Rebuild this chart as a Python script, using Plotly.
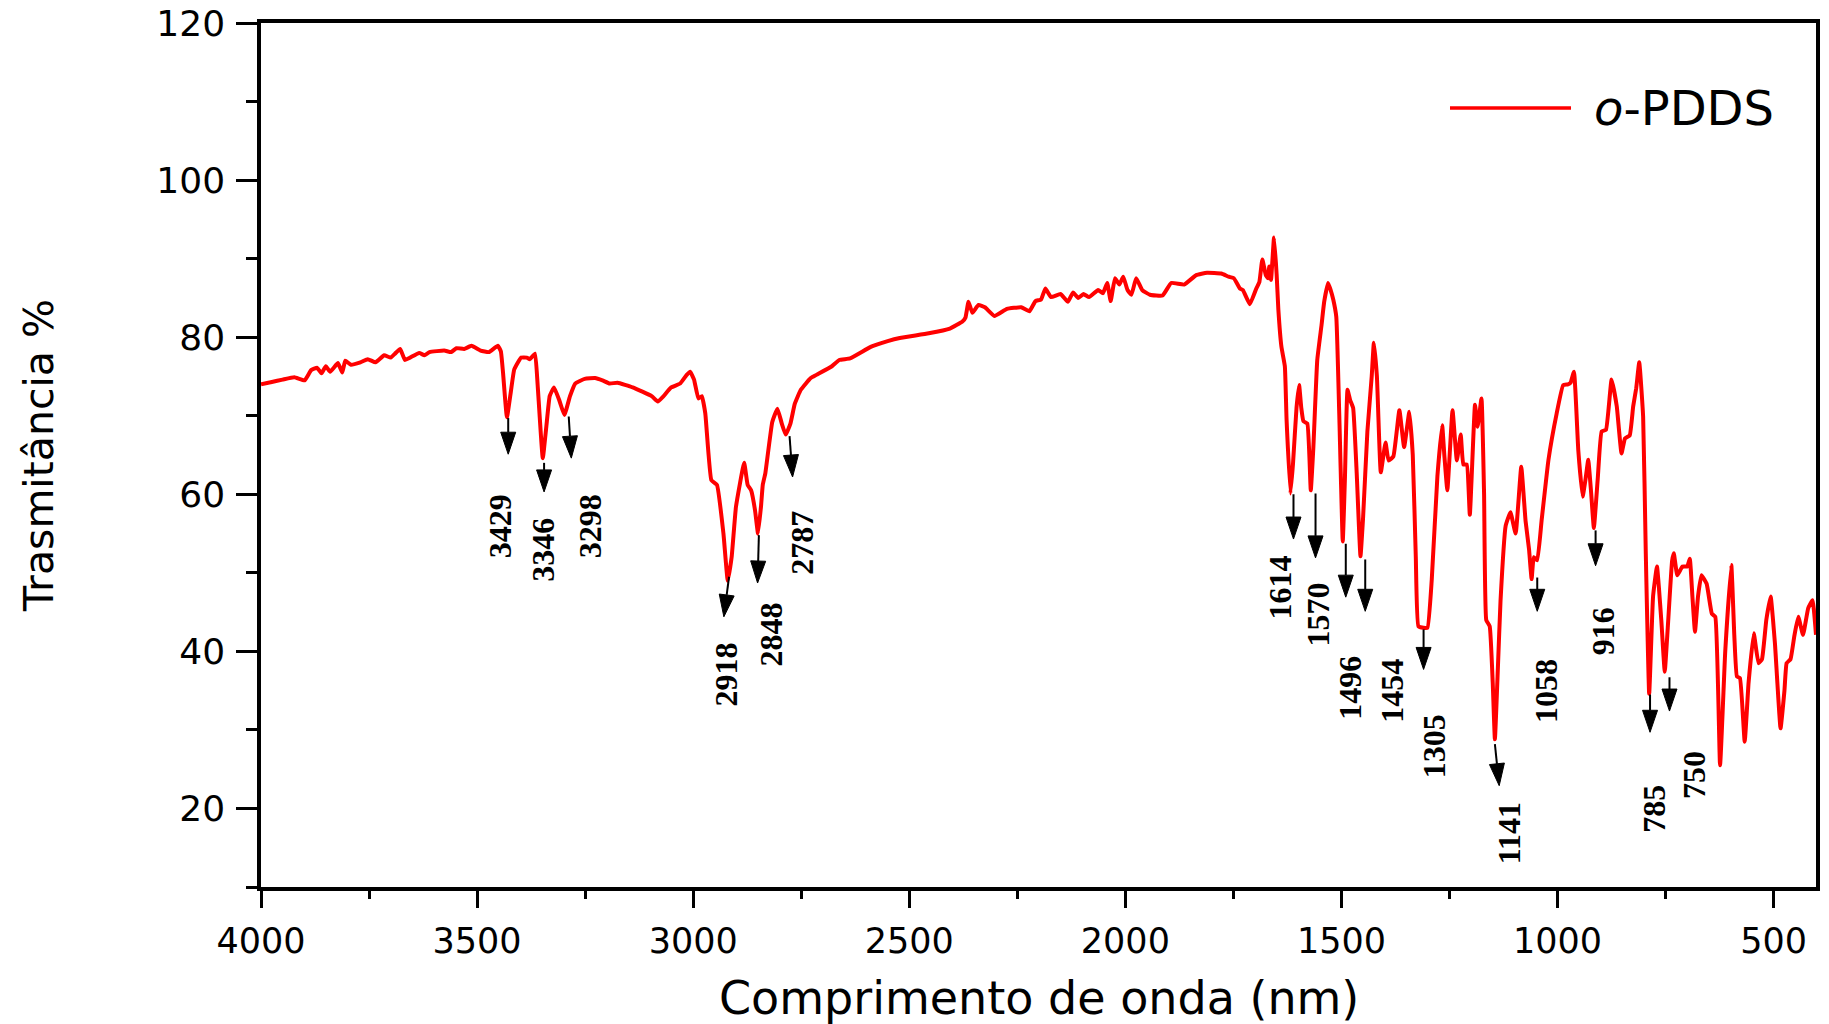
import math
import plotly.graph_objects as go

# ---------------- data ----------------
wavenumber = [
    4000, 3975, 3950, 3923, 3899, 3884, 3870, 3860, 3850, 3840, 3822, 3812, 3805, 3792,
    3770, 3753, 3735, 3715, 3700, 3690, 3678, 3667, 3655, 3634, 3622, 3610, 3576, 3560,
    3548, 3530, 3513, 3492, 3473, 3452, 3445, 3440, 3431, 3422, 3414, 3398, 3385, 3378,
    3366, 3360, 3348, 3340, 3332, 3322, 3310, 3298, 3285, 3273, 3251, 3227, 3210, 3193,
    3175, 3140, 3096, 3082, 3070, 3051, 3030, 3015, 3007, 2998, 2988, 2980, 2972, 2958,
    2945, 2930, 2920, 2911, 2901, 2882, 2874, 2866, 2857, 2850, 2843, 2839, 2833, 2817,
    2805, 2795, 2786, 2775, 2765, 2751, 2728, 2715, 2679, 2662, 2637, 2588, 2550, 2522,
    2455, 2406, 2377, 2370, 2363, 2354, 2340, 2325, 2303, 2274, 2241, 2222, 2208, 2195,
    2185, 2172, 2150, 2133, 2121, 2109, 2097, 2084, 2063, 2052, 2042, 2034, 2024, 2014,
    2005, 1995, 1986, 1975, 1961, 1943, 1914, 1894, 1864, 1836, 1811, 1778, 1761, 1749,
    1735, 1728, 1712, 1697, 1690, 1683, 1675, 1670, 1667, 1663, 1656, 1650, 1646, 1639,
    1631, 1627, 1618, 1612, 1604, 1598, 1593, 1588, 1579, 1571, 1565, 1556, 1546, 1540,
    1531, 1525, 1519, 1512, 1505, 1497, 1492, 1486, 1480, 1473, 1465, 1456, 1450, 1440,
    1430, 1425, 1418, 1409, 1398, 1391, 1380, 1366, 1355, 1343, 1335, 1328, 1322, 1310,
    1301, 1291, 1278, 1267, 1262, 1255, 1243, 1233, 1224, 1218, 1210, 1203, 1191, 1185,
    1176, 1170, 1165, 1157, 1150, 1145, 1138, 1132, 1120, 1109, 1097, 1084, 1074, 1066,
    1060, 1055, 1047, 1037, 1021, 1002, 987, 976, 970, 962, 952, 942, 935, 929,
    922, 916, 907, 898, 888, 875, 863, 852, 844, 833, 825, 818, 811, 802,
    796, 788, 779, 770, 760, 752, 745, 735, 731, 723, 711, 700, 694, 688,
    682, 675, 667, 655, 643, 635, 624, 612, 598, 591, 585, 578, 567, 558,
    546, 535, 527, 517, 507, 497, 484, 475, 470, 461, 452, 443, 432, 420,
    410, 402,
]
transmittance = [
    74.0, 74.3, 74.6, 74.9, 74.5, 75.8, 76.1, 75.4, 76.3, 75.6, 76.7, 75.5, 77.0, 76.5,
    76.8, 77.2, 76.8, 77.7, 77.4, 77.9, 78.5, 77.1, 77.4, 78.0, 77.7, 78.1, 78.3, 78.1,
    78.6, 78.5, 78.9, 78.3, 78.1, 78.9, 78.2, 75.5, 69.8, 73.0, 75.9, 77.4, 77.4, 77.2,
    77.9, 74.0, 64.6, 68.5, 72.5, 73.6, 72.0, 70.1, 72.5, 74.1, 74.7, 74.8, 74.5, 74.1,
    74.2, 73.6, 72.5, 71.8, 72.4, 73.6, 74.1, 75.2, 75.6, 74.6, 72.2, 72.5, 70.3, 61.8,
    61.2, 55.0, 49.0, 52.0, 58.4, 64.0, 61.2, 60.5, 58.0, 55.0, 58.5, 61.2, 62.7, 69.2,
    70.9, 69.0, 67.6, 69.0, 71.5, 73.3, 74.8, 75.2, 76.3, 77.1, 77.3, 78.8, 79.5, 79.9,
    80.5, 81.1, 82.0, 82.5, 84.5, 83.1, 84.1, 83.8, 82.7, 83.6, 83.8, 83.3, 84.6, 84.8,
    86.2, 85.1, 85.5, 84.5, 85.7, 85.0, 85.5, 85.1, 86.0, 85.6, 86.9, 84.6, 87.5, 86.7,
    87.7, 86.0, 85.4, 87.5, 86.0, 85.4, 85.3, 86.9, 86.7, 87.9, 88.2, 88.1, 87.7, 87.5,
    86.2, 86.0, 84.2, 86.2, 87.0, 89.9, 87.9, 87.5, 89.0, 87.3, 92.7, 88.0, 83.5, 78.8,
    76.3, 69.5, 60.1, 64.0, 71.0, 73.9, 71.0, 69.3, 69.0, 60.5, 66.0, 77.1, 81.6, 84.5,
    86.9, 86.0, 84.8, 82.6, 70.0, 54.0, 62.0, 73.3, 72.0, 71.0, 63.0, 52.1, 57.0, 68.0,
    75.0, 79.3, 75.0, 62.8, 66.6, 64.3, 64.8, 70.7, 66.0, 70.5, 65.0, 52.0, 43.2, 43.0,
    43.0, 49.2, 62.3, 68.8, 65.0, 60.5, 70.7, 64.3, 67.6, 63.8, 63.8, 57.4, 71.4, 68.6,
    72.2, 60.0, 44.0, 43.2, 36.0, 28.8, 38.0, 46.4, 56.0, 57.7, 55.0, 63.5, 56.6, 53.0,
    49.2, 52.0, 51.6, 56.6, 64.4, 70.3, 73.9, 74.0, 74.2, 75.6, 65.6, 59.7, 62.0, 64.4,
    60.0, 55.7, 62.0, 68.0, 68.2, 74.6, 71.2, 65.2, 67.1, 67.5, 71.2, 73.5, 76.8, 69.9,
    52.9, 34.6, 47.0, 50.8, 44.0, 37.4, 43.0, 51.5, 52.5, 49.7, 50.8, 50.8, 51.8, 47.0,
    42.5, 47.0, 49.7, 48.6, 44.8, 44.4, 25.5, 40.0, 51.0, 42.0, 36.8, 36.6, 28.5, 36.0,
    42.3, 38.5, 39.0, 44.0, 47.0, 41.0, 30.2, 35.0, 38.5, 39.0, 42.0, 44.4, 42.1, 45.5,
    46.5, 42.1,
]

peak_labels = ["3429", "3346", "3298", "2918", "2848", "2787", "1614", "1570",
               "1496", "1454", "1305", "1141", "1058", "916", "785", "750"]
arrow_tail_x = [3428, 3345, 3288, 2917, 2848, 2777, 1611, 1560, 1490, 1445, 1310, 1145, 1047, 912, 786, 741]
arrow_tail_y = [69.7, 64.0, 69.9, 49.5, 54.8, 67.4, 60.0, 60.1, 53.7, 51.7, 42.8, 28.2, 49.4, 55.4, 34.5, 36.7]
arrow_tip_x = [3428, 3345, 3282, 2929, 2851, 2770, 1611, 1560, 1490, 1445, 1310, 1135, 1047, 912, 786, 741]
arrow_tip_y = [65.1, 60.3, 64.6, 44.4, 48.7, 62.2, 54.3, 51.9, 46.9, 45.1, 37.7, 22.9, 45.1, 50.9, 29.7, 32.4]
label_x = [3445, 3348, 3237, 2923, 2821, 2749, 1643, 1554, 1479, 1383, 1284, 1113, 1028, 896, 776, 686]
label_y = [55.9, 52.9, 55.9, 37.1, 42.1, 53.8, 48.1, 44.7, 35.3, 35.0, 27.9, 16.8, 35.0, 42.5, 20.0, 24.3]

series_name = "<i>o</i>-PDDS"
x_title = "Comprimento de onda (nm)"
y_title = "Trasmitância %"

# ---------------- layout geometry ----------------
W, H = 1829, 1024
ML, MR, MT, MB = 261, 13, 23, 137
X_RANGE = [4000, 402]
Y_RANGE = [10, 120]
plot_w = W - ML - MR
plot_h = H - MT - MB
px_per_x = plot_w / abs(X_RANGE[0] - X_RANGE[1])
px_per_y = plot_h / (Y_RANGE[1] - Y_RANGE[0])

fig = go.Figure()
fig.add_trace(go.Scatter(
    x=wavenumber, y=transmittance, mode="lines", name=series_name,
    line=dict(color="#FF0000", width=4, shape="spline", smoothing=0.35),
    showlegend=False, hoverinfo="skip",
))

shapes = []
annotations = []
HEAD_LEN, HEAD_HW = 22.0, 7.5
for lab, xt, yt, xp, yp, lx, ly in zip(peak_labels, arrow_tail_x, arrow_tail_y,
                                        arrow_tip_x, arrow_tip_y, label_x, label_y):
    sx = -(xp - xt) * px_per_x
    sy = -(yp - yt) * px_per_y
    L = math.hypot(sx, sy)
    ux, uy = sx / L, sy / L
    nx, ny = -uy, ux
    def to_data(ox, oy):
        return xp - ox / px_per_x, yp - oy / px_per_y
    bx, by = to_data(-ux * HEAD_LEN, -uy * HEAD_LEN)
    c1 = to_data(-ux * HEAD_LEN + nx * HEAD_HW, -uy * HEAD_LEN + ny * HEAD_HW)
    c2 = to_data(-ux * HEAD_LEN - nx * HEAD_HW, -uy * HEAD_LEN - ny * HEAD_HW)
    shapes.append(dict(type="line", xref="x", yref="y", x0=xt, y0=yt, x1=bx, y1=by,
                       line=dict(color="black", width=2)))
    shapes.append(dict(type="path", xref="x", yref="y",
                       path=f"M {xp},{yp} L {c1[0]},{c1[1]} L {c2[0]},{c2[1]} Z",
                       fillcolor="black", line=dict(color="black", width=1)))
    annotations.append(dict(x=lx, y=ly, xref="x", yref="y", text=f"<b>{lab}</b>",
                            textangle=-90, showarrow=False, xanchor="center", yanchor="middle",
                            font=dict(family="Liberation Serif", size=32, color="black")))

# legend (drawn manually to match the long sample line)
leg_y = (plot_h - (108 - MT)) / plot_h
shapes.append(dict(type="line", xref="paper", yref="paper",
                   x0=(1450 - ML) / plot_w, x1=(1571 - ML) / plot_w, y0=leg_y, y1=leg_y,
                   line=dict(color="#FF0000", width=3.5)))
annotations.append(dict(x=(1592 - ML) / plot_w, y=leg_y, xref="paper", yref="paper",
                        text=series_name, showarrow=False, xanchor="left", yanchor="middle",
                        font=dict(family="DejaVu Sans", size=48, color="black")))

# x-axis title placed at a fixed position below the tick labels
annotations.append(dict(x=0.5, y=-(998 - (MT + plot_h)) / plot_h, xref="paper", yref="paper",
                        text=x_title, showarrow=False, xanchor="center", yanchor="middle",
                        font=dict(family="DejaVu Sans", size=46, color="black")))

axis_common = dict(showline=True, linewidth=3.5, linecolor="black", mirror=True,
                   showgrid=False, zeroline=False, ticks="outside", tickcolor="black",
                   tickwidth=3, automargin=False)

fig.update_layout(
    width=W, height=H,
    margin=dict(l=ML, r=MR, t=MT, b=MB, pad=0, autoexpand=False),
    paper_bgcolor="white", plot_bgcolor="white",
    shapes=shapes, annotations=annotations,
    xaxis=dict(range=X_RANGE, tickmode="linear", tick0=0, dtick=500, ticklen=17,
               ticklabelstandoff=3,
               tickfont=dict(family="DejaVu Sans", size=35, color="black"),
               minor=dict(dtick=250, tick0=0, ticks="outside", ticklen=8, tickwidth=3,
                          tickcolor="black", showgrid=False),
               **axis_common),
    yaxis=dict(range=Y_RANGE, tickmode="linear", tick0=0, dtick=20, ticklen=21,
               ticklabelstandoff=4,
               tickfont=dict(family="DejaVu Sans", size=36, color="black"),
               minor=dict(dtick=10, tick0=0, ticks="outside", ticklen=11, tickwidth=3,
                          tickcolor="black", showgrid=False),
               title=dict(text=y_title, standoff=91,
                          font=dict(family="DejaVu Sans", size=41, color="black")),
               **axis_common),
)

fig.write_html("out.html")
